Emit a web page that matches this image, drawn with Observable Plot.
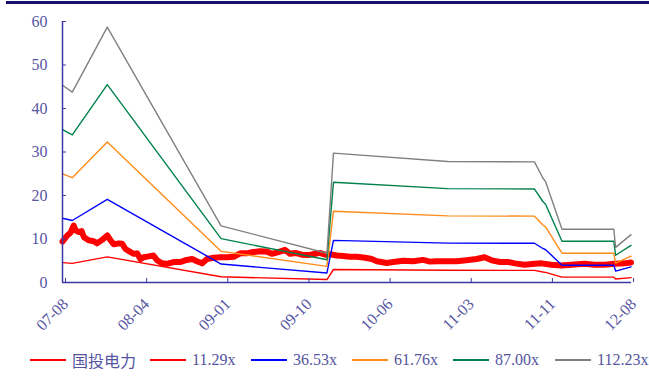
<!DOCTYPE html>
<html><head><meta charset="utf-8">
<script src="https://cdn.jsdelivr.net/npm/d3@7"></script>
<script src="https://cdn.jsdelivr.net/npm/@observablehq/plot@0.6"></script>
<style>
body{margin:0;background:#fff;width:649px;height:379px;overflow:hidden;position:relative;font-family:"Liberation Serif","Noto Sans CJK SC",serif;}
#bar{position:absolute;left:6px;top:1px;width:643px;height:3px;background:#14106e;}
#chart{position:absolute;left:0;top:0;}
#legend{position:absolute;top:350px;left:0;width:649px;height:20px;font-size:16px;color:#5454a0;}
.item{position:absolute;top:0;display:flex;align-items:center;height:20px;white-space:nowrap;}
.sw{width:36px;height:0;border-top:2px solid;margin-right:6px;}
</style></head><body>
<div id="bar"></div><div id="chart"></div><div id="legend"></div>
<script>
// x axis: trading-day index, labels every 174 points
const tickIdx = [0,174,348,522,696,870,1044,1218];
const tickLabels = ["07-08","08-04","09-01","09-10","10-06","11-03","11-11","12-08"];
const yTicks = [0,10,20,30,40,50,60];

// PE band lines (breakpoints)
const bandIdx = [0,21,96,340,567,581,826,1012,1030,1036,1071,1182,1186,1219];
const pe1129 = [4.56,4.40,5.90,1.31,0.68,2.99,2.80,2.79,2.42,2.33,1.23,1.23,0.81,1.11];
const pe3653 = [14.76,14.25,19.11,4.24,2.19,9.68,9.06,9.02,7.82,7.53,3.98,3.98,2.63,3.58];
const pe6176 = [24.95,24.09,32.30,7.16,3.71,16.37,15.32,15.25,13.22,12.72,6.73,6.73,4.45,6.05];
const pe8700 = [35.15,33.93,45.50,10.09,5.22,23.06,21.58,21.49,18.62,17.92,9.48,9.48,6.26,8.53];
const pe11223 = [45.34,43.77,58.70,13.02,6.73,29.74,27.83,27.72,24.02,23.12,12.23,12.23,8.08,11.00];

// 国投电力 price
const priceIdx = [0,10,17,24,28,35,41,46,56,67,74,85,96,103,110,121,128,135,146,153,160,167,174,185,195,203,213,224,238,253,263,278,288,299,310,324,338,353,367,381,395,409,424,438,449,463,477,488,499,513,527,542,552,563,574,588,602,616,631,649,663,674,695,709,731,752,773,788,802,823,845,866,888,905,920,938,955,970,991,1012,1027,1048,1070,1091,1119,1141,1162,1184,1205,1219];
const priceVal = [9.4,10.8,11.4,13.1,12.0,11.6,11.8,10.4,9.7,9.5,9.0,9.8,10.8,9.7,8.8,9.0,8.9,7.7,7.0,6.6,6.7,5.4,5.8,6.0,6.2,5.1,4.4,4.3,4.7,4.7,5.1,5.4,4.9,4.4,5.4,5.7,5.8,5.8,5.9,6.7,6.7,7.0,7.2,7.1,6.6,7.0,7.5,6.6,6.8,6.4,6.3,6.6,6.8,6.4,6.5,6.2,6.1,5.9,5.9,5.7,5.4,4.9,4.5,4.7,5.0,4.9,5.2,4.8,4.9,4.9,4.9,5.1,5.4,5.8,5.1,4.7,4.7,4.4,4.1,4.3,4.4,4.1,3.9,4.1,4.3,4.1,4.1,4.3,4.4,4.6];

const seriesNames = ["国投电力","11.29x","36.53x","61.76x","87.00x","112.23x"];
const seriesColors = ["#ff0000","#ff0000","#0000ff","#ff8c1a","#00804a","#808080"];

const bands = [pe1129,pe3653,pe6176,pe8700,pe11223];
const priceRows = priceIdx.map((t,i)=>({t, v:priceVal[i]}));

const axisLine = "#3a3aa6";
const labelColor = "#5656a2";
const font = '"Liberation Serif","Noto Sans CJK SC",serif';

const chart = Plot.plot({
  width:649, height:345,
  marginLeft:62, marginRight:18, marginTop:21, marginBottom:63,
  style:{fontFamily:font, fontSize:"16px", background:"transparent", color:labelColor},
  x:{domain:[0,1220]},
  y:{domain:[0,60]},
  marks:[
    Plot.line(priceRows,{x:"t",y:"v",stroke:seriesColors[0],strokeWidth:6}),
    ...bands.map((vals,k)=>Plot.line(bandIdx.map((t,i)=>({t, v:vals[i]})),{x:"t",y:"v",stroke:seriesColors[k+1],strokeWidth:1.4})),
    Plot.ruleX([0],{stroke:axisLine,strokeWidth:1.5}),
    Plot.ruleY([0],{stroke:axisLine,strokeWidth:1.5}),
    Plot.axisY({ticks:yTicks, tickSize:-4, tickPadding:19, tickFormat:d=>String(d), stroke:axisLine, fill:labelColor, label:null, fontSize:16}),
    Plot.axisX({ticks:tickIdx, tickFormat:d=>tickLabels[tickIdx.indexOf(d)], tickRotate:-45, tickSize:-4, tickPadding:23, dx:3, stroke:axisLine, fill:labelColor, label:null, fontSize:16})
  ]
});
document.getElementById("chart").appendChild(chart);

const legendLeft = [30,150,251,352,453,555];
const lg = document.getElementById("legend");
seriesNames.forEach((n,i)=>{
  const it = document.createElement("div");
  it.className="item"; it.style.left = legendLeft[i]+"px";
  const sw = document.createElement("span"); sw.className="sw"; sw.style.borderColor = seriesColors[i];
  const tx = document.createElement("span"); tx.textContent = n;
  it.appendChild(sw); it.appendChild(tx); lg.appendChild(it);
});
</script>
</body></html>
